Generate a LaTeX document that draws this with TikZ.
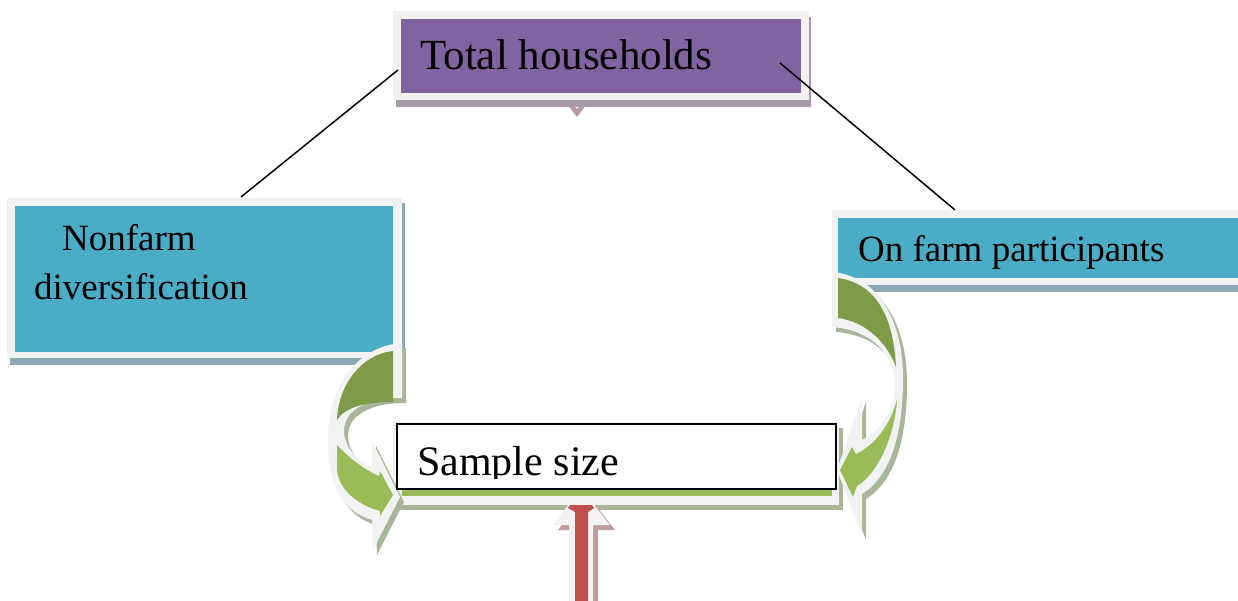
\documentclass[tikz,border=0pt]{standalone}
\usepackage{fontspec}
\setmainfont{Liberation Serif}
\definecolor{framegray}{HTML}{F2F2F2}
\definecolor{purplefill}{HTML}{8064A2}
\definecolor{purpleshadow}{HTML}{A99AAB}
\definecolor{bluefill}{HTML}{4BACC6}
\definecolor{blueshadow}{HTML}{8EA8B2}
\definecolor{darkgreen}{HTML}{7F9A48}
\definecolor{lightgreen}{HTML}{9BBB59}
\definecolor{greenshadow}{HTML}{A8B598}
\definecolor{redfill}{HTML}{C0504D}
\definecolor{redshadow}{HTML}{BE9C9C}
\definecolor{vpink}{HTML}{B59A9E}
\begin{document}
\begin{tikzpicture}[x=1pt,y=-1pt,
  box/.style={rectangle, anchor=north west, inner sep=0pt, outer sep=0pt, draw=none},
  lbl/.style={anchor=base west, inner sep=0pt, text=black},
  big/.style={font=\fontsize{43}{50}\selectfont},
  bigs/.style={font=\fontsize{42}{50}\selectfont},
  mid/.style={font=\fontsize{37}{49}\selectfont},
  connector/.style={draw=black, line width=1.5pt},
  outline/.style={fill=framegray},
]
\useasboundingbox (0,0) rectangle (1238,601);

% ---------- Total households ----------
\fill[vpink] (561,96) -- (593,96) -- (577,117) -- cycle;
\fill[white] (567,96) -- (587,96) -- (577,109) -- cycle;
\node[box, fill=purpleshadow, minimum width=415pt, minimum height=90pt] (totalsh) at (396,17) {};
\node[box, fill=framegray, minimum width=416pt, minimum height=89pt] (totalfr) at (393,11) {};
\node[box, fill=purplefill, minimum width=400pt, minimum height=74pt] (total) at (401,19) {};
\node[lbl, big] (totaltext) at (420,70) {Total households};

% ---------- Nonfarm diversification ----------
\node[box, fill=blueshadow, minimum width=395pt, minimum height=162pt] (nonfarmsh) at (10,203) {};
\node[box, fill=framegray, minimum width=395pt, minimum height=160pt] (nonfarmfr) at (7,198) {};
\node[box, fill=bluefill, minimum width=378pt, minimum height=146pt] (nonfarm) at (15,206) {};
\node[lbl, mid] (nonfarmtext1) at (62,251) {Nonfarm};
\node[lbl, mid] (nonfarmtext2) at (34,300) {diversification};

% ---------- On farm participants ----------
\node[box, fill=blueshadow, minimum width=410pt, minimum height=76pt] (onfarmsh) at (835,216) {};
\node[box, fill=framegray, minimum width=410pt, minimum height=75pt] (onfarmfr) at (832,210) {};
\node[box, fill=bluefill, minimum width=402pt, minimum height=60pt] (onfarm) at (838,218) {};
\node[lbl, mid] (onfarmtext) at (858,262) {On farm participants};

% ---------- Connectors ----------
\coordinate (c1a) at (398,70);
\coordinate (c1b) at (241,197);
\coordinate (c2a) at (780,63);
\coordinate (c2b) at (955,210);
\draw[connector] (c1a) -- (c1b);
\draw[connector] (c2a) -- (c2b);

% ---------- Sample size frame ----------
\node[box, fill=greenshadow, minimum width=446pt, minimum height=82pt] (samplesh) at (397,428) {};
\node[box, fill=framegray, minimum width=446pt, minimum height=83pt] (samplefr) at (393,422) {};

% ---------- Red up arrow ----------
\fill[redshadow] (574,606) -- (574,530) -- (558,530) -- (586,493) -- (615,530) -- (598,530) -- (598,606) -- cycle;
\fill[outline] (569,606) -- (569,525) -- (553,525) -- (581,488) -- (610,525) -- (593,525) -- (593,606) -- cycle;
\fill[redfill] (575,606) -- (575,512) -- (568,508) -- (581,490) -- (594,508) -- (588,512) -- (588,606) -- cycle;
\node[box, fill=framegray, minimum width=446pt, minimum height=83pt] (samplefr2) at (393,422) {};

% ---------- Left curved arrow ----------
\fill[greenshadow, shift={(4,5)}] (402,343) .. controls (358,346) and (328,385) .. (328,440) .. controls (328,490) and (345,512) .. (372,520) -- (373,550) -- (400,497) -- (372,441) -- (372,467) .. controls (348,457) and (336,432) .. (350,414) .. controls (362,402) and (380,398) .. (402,398) -- cycle;
\fill[outline] (402,343) .. controls (358,346) and (328,385) .. (328,440) .. controls (328,490) and (345,512) .. (372,520) -- (373,550) -- (400,497) -- (372,441) -- (372,467) .. controls (348,457) and (336,432) .. (350,414) .. controls (362,402) and (380,398) .. (402,398) -- cycle;
\fill[darkgreen] (393,351) .. controls (362,354) and (338,385) .. (337,420) .. controls (345,407) and (365,402) .. (393,402) -- cycle;
\fill[lightgreen] (337,445) .. controls (350,459) and (365,470) .. (379,476) -- (380,471) -- (393,495) -- (380,516) -- (380,511) .. controls (358,505) and (339,490) .. (337,470) -- cycle;

% ---------- Right curved arrow ----------
\fill[greenshadow, shift={(4,5)}] (832,272) .. controls (878,276) and (903,320) .. (903,378) .. controls (903,440) and (888,478) .. (862,494) -- (862,535) -- (837,470) -- (862,397) -- (862,440) .. controls (882,430) and (895,410) .. (895,385) .. controls (895,355) and (872,330) .. (832,327) -- cycle;
\fill[outline] (832,272) .. controls (878,276) and (903,320) .. (903,378) .. controls (903,440) and (888,478) .. (862,494) -- (862,535) -- (837,470) -- (862,397) -- (862,440) .. controls (882,430) and (895,410) .. (895,385) .. controls (895,355) and (872,330) .. (832,327) -- cycle;
\fill[darkgreen] (838,278) .. controls (872,283) and (893,310) .. (896,367) .. controls (888,345) and (868,322) .. (838,318) -- cycle;
\fill[lightgreen] (897,400) .. controls (895,432) and (880,472) .. (857,486) -- (853,497) -- (840,470) -- (852,447) -- (856,454) .. controls (875,445) and (890,425) .. (897,400) -- cycle;

% ---------- Sample size box ----------
\node[box, fill=lightgreen, minimum width=430pt, minimum height=26pt] (samplestrip) at (402,470) {};
\node[box, fill=white, draw=black, line width=1.8pt, minimum width=439pt, minimum height=65pt] (sample) at (397,424) {};
\begin{scope}
\clip (398,425) rectangle (835,478);
\node[lbl, bigs] (sampletext) at (417,475) {Sample size};
\end{scope}
\end{tikzpicture}
\end{document}
